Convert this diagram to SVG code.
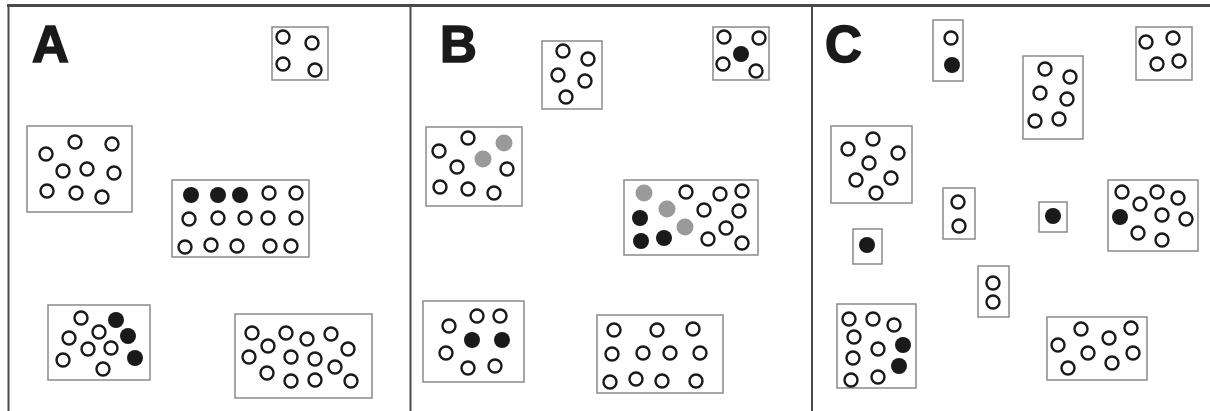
<svg xmlns="http://www.w3.org/2000/svg" width="1210" height="411" viewBox="0 0 1210 411">
<style>
.box{fill:#fff;stroke:#8a8a8a;stroke-width:1.5}
.o{fill:none;stroke:#1a1a1a;stroke-width:2.4}
.f{fill:#1a1a1a}
.g{fill:#9a9a9a}
.frame{stroke:#4a4a4a;fill:none}
.lbl{font-family:"Liberation Sans",Arial,sans-serif;font-weight:bold;font-size:51px;fill:#1a1a1a;stroke:#1a1a1a;stroke-width:1.6}
</style>
<rect width="1210" height="411" fill="#fff"/>
<g id="frame">
<line class="frame" x1="7" y1="5.5" x2="1210" y2="5.5" stroke-width="3"/>
<line class="frame" x1="8.5" y1="5" x2="8.5" y2="411" stroke-width="2"/>
<line class="frame" x1="410.5" y1="5" x2="410.5" y2="411" stroke-width="2"/>
<line class="frame" x1="812" y1="5" x2="812" y2="411" stroke-width="2"/>
</g>
<g id="connectors"/>
<g id="labels">
<text class="lbl" x="32" y="62">A</text>
<text class="lbl" x="440" y="62">B</text>
<text class="lbl" x="825" y="62">C</text>
</g>
<!-- Panel A -->
<g id="A1">
<rect class="box" x="272" y="27" width="56" height="53"/>
<circle class="o" cx="283" cy="37" r="6.5"/><circle class="o" cx="312" cy="43" r="6.5"/>
<circle class="o" cx="283" cy="64" r="6.5"/><circle class="o" cx="315" cy="70" r="6.5"/>
</g>
<g id="A2">
<rect class="box" x="27" y="126" width="105" height="86"/>
<circle class="o" cx="46" cy="154" r="6.5"/><circle class="o" cx="75" cy="142" r="6.5"/><circle class="o" cx="112" cy="144" r="6.5"/>
<circle class="o" cx="63" cy="171" r="6.5"/><circle class="o" cx="87" cy="169" r="6.5"/><circle class="o" cx="114" cy="173" r="6.5"/>
<circle class="o" cx="47" cy="191" r="6.5"/><circle class="o" cx="76" cy="193" r="6.5"/><circle class="o" cx="102" cy="197" r="6.5"/>
</g>
<g id="A3">
<rect class="box" x="172" y="180" width="137" height="77"/>
<circle class="f" cx="191" cy="195" r="8"/><circle class="f" cx="218" cy="195" r="8"/><circle class="f" cx="240" cy="195" r="8"/>
<circle class="o" cx="269" cy="193" r="6.5"/><circle class="o" cx="296" cy="193" r="6.5"/>
<circle class="o" cx="189" cy="219" r="6.5"/><circle class="o" cx="218" cy="218" r="6.5"/><circle class="o" cx="245" cy="218" r="6.5"/><circle class="o" cx="268" cy="218" r="6.5"/><circle class="o" cx="296" cy="218" r="6.5"/>
<circle class="o" cx="185" cy="247" r="6.5"/><circle class="o" cx="211" cy="245" r="6.5"/><circle class="o" cx="237" cy="246" r="6.5"/><circle class="o" cx="270" cy="246" r="6.5"/><circle class="o" cx="291" cy="246" r="6.5"/>
</g>
<g id="A4">
<rect class="box" x="48" y="305" width="102" height="75"/>
<circle class="o" cx="81" cy="318" r="6.5"/><circle class="f" cx="116" cy="320" r="8"/>
<circle class="o" cx="99" cy="332" r="6.5"/><circle class="f" cx="128" cy="336" r="8"/>
<circle class="o" cx="69" cy="338" r="6.5"/><circle class="o" cx="88" cy="349" r="6.5"/><circle class="o" cx="111" cy="348" r="6.5"/>
<circle class="f" cx="135" cy="358" r="8"/><circle class="o" cx="63" cy="360" r="6.5"/><circle class="o" cx="103" cy="369" r="6.5"/>
</g>
<g id="A5">
<rect class="box" x="235" y="314" width="137" height="84"/>
<circle class="o" cx="252" cy="333" r="6.5"/><circle class="o" cx="286" cy="333" r="6.5"/><circle class="o" cx="307" cy="339" r="6.5"/><circle class="o" cx="331" cy="334" r="6.5"/>
<circle class="o" cx="268" cy="346" r="6.5"/><circle class="o" cx="348" cy="349" r="6.5"/>
<circle class="o" cx="249" cy="357" r="6.5"/><circle class="o" cx="291" cy="357" r="6.5"/><circle class="o" cx="315" cy="359" r="6.5"/>
<circle class="o" cx="335" cy="367" r="6.5"/><circle class="o" cx="267" cy="373" r="6.5"/>
<circle class="o" cx="291" cy="381" r="6.5"/><circle class="o" cx="315" cy="380" r="6.5"/><circle class="o" cx="351" cy="381" r="6.5"/>
</g>
<!-- Panel B -->
<g id="B1">
<rect class="box" x="542" y="41" width="60" height="68"/>
<circle class="o" cx="563" cy="51" r="6.5"/><circle class="o" cx="588" cy="59" r="6.5"/>
<circle class="o" cx="558" cy="75" r="6.5"/><circle class="o" cx="585" cy="81" r="6.5"/>
<circle class="o" cx="566" cy="97" r="6.5"/>
</g>
<g id="B2">
<rect class="box" x="713" y="27" width="56" height="53"/>
<circle class="o" cx="724" cy="37" r="6.5"/><circle class="o" cx="759" cy="38" r="6.5"/>
<circle class="f" cx="741" cy="54" r="8"/>
<circle class="o" cx="723" cy="64" r="6.5"/><circle class="o" cx="756" cy="71" r="6.5"/>
</g>
<g id="B3">
<rect class="box" x="426" y="127" width="96" height="79"/>
<circle class="o" cx="439" cy="151" r="6.5"/><circle class="o" cx="468" cy="138" r="6.5"/>
<circle class="g" cx="504" cy="143" r="8.5"/><circle class="g" cx="483" cy="159" r="8.5"/>
<circle class="o" cx="457" cy="167" r="6.5"/><circle class="o" cx="507" cy="169" r="6.5"/>
<circle class="o" cx="440" cy="187" r="6.5"/><circle class="o" cx="468" cy="189" r="6.5"/><circle class="o" cx="494" cy="193" r="6.5"/>
</g>
<g id="B4">
<rect class="box" x="624" y="180" width="134" height="75"/>
<circle class="g" cx="644" cy="193" r="8.5"/><circle class="o" cx="686" cy="192" r="6.5"/><circle class="o" cx="720" cy="194" r="6.5"/><circle class="o" cx="742" cy="191" r="6.5"/>
<circle class="f" cx="640" cy="218" r="8"/><circle class="g" cx="667" cy="209" r="8.5"/><circle class="o" cx="704" cy="210" r="6.5"/><circle class="o" cx="739" cy="211" r="6.5"/>
<circle class="g" cx="685" cy="227" r="8.5"/><circle class="o" cx="726" cy="228" r="6.5"/>
<circle class="f" cx="641" cy="241" r="8"/><circle class="f" cx="664" cy="238" r="8"/><circle class="o" cx="708" cy="239" r="6.5"/><circle class="o" cx="742" cy="243" r="6.5"/>
</g>
<g id="B5">
<rect class="box" x="423" y="301" width="101" height="81"/>
<circle class="o" cx="449" cy="326" r="6.5"/><circle class="o" cx="477" cy="316" r="6.5"/><circle class="o" cx="500" cy="316" r="6.5"/>
<circle class="f" cx="472" cy="340" r="8"/><circle class="f" cx="502" cy="340" r="8"/>
<circle class="o" cx="446" cy="353" r="6.5"/><circle class="o" cx="468" cy="368" r="6.5"/><circle class="o" cx="495" cy="366" r="6.5"/>
</g>
<g id="B6">
<rect class="box" x="597" y="315" width="126" height="78"/>
<circle class="o" cx="614" cy="330" r="6.5"/><circle class="o" cx="657" cy="330" r="6.5"/><circle class="o" cx="693" cy="329" r="6.5"/>
<circle class="o" cx="612" cy="354" r="6.5"/><circle class="o" cx="643" cy="353" r="6.5"/><circle class="o" cx="670" cy="353" r="6.5"/><circle class="o" cx="700" cy="353" r="6.5"/>
<circle class="o" cx="610" cy="382" r="6.5"/><circle class="o" cx="636" cy="379" r="6.5"/><circle class="o" cx="662" cy="381" r="6.5"/><circle class="o" cx="696" cy="381" r="6.5"/>
</g>
<!-- Panel C -->
<g id="C1">
<rect class="box" x="933" y="20" width="30" height="61"/>
<circle class="o" cx="951" cy="38" r="6.5"/><circle class="f" cx="952" cy="65" r="8"/>
</g>
<g id="C2">
<rect class="box" x="831" y="126" width="81" height="77"/>
<circle class="o" cx="848" cy="149" r="6.5"/><circle class="o" cx="873" cy="139" r="6.5"/><circle class="o" cx="898" cy="153" r="6.5"/>
<circle class="o" cx="869" cy="163" r="6.5"/><circle class="o" cx="856" cy="180" r="6.5"/><circle class="o" cx="891" cy="178" r="6.5"/>
<circle class="o" cx="876" cy="193" r="6.5"/>
</g>
<g id="C3">
<rect class="box" x="943" y="188" width="32" height="51"/>
<circle class="o" cx="958" cy="202" r="6.5"/><circle class="o" cx="959" cy="226" r="6.5"/>
</g>
<g id="C4">
<rect class="box" x="853" y="229" width="29" height="35"/>
<circle class="f" cx="867" cy="245" r="8"/>
</g>
<g id="C5">
<rect class="box" x="978" y="266" width="31" height="51"/>
<circle class="o" cx="993" cy="283" r="6.5"/><circle class="o" cx="993" cy="302" r="6.5"/>
</g>
<g id="C6">
<rect class="box" x="837" y="304" width="79" height="84"/>
<circle class="o" cx="849" cy="319" r="6.5"/><circle class="o" cx="873" cy="319" r="6.5"/><circle class="o" cx="894" cy="325" r="6.5"/>
<circle class="o" cx="854" cy="337" r="6.5"/><circle class="o" cx="878" cy="349" r="6.5"/><circle class="f" cx="903" cy="345" r="8"/>
<circle class="o" cx="853" cy="358" r="6.5"/><circle class="f" cx="899" cy="366" r="8"/>
<circle class="o" cx="851" cy="380" r="6.5"/><circle class="o" cx="878" cy="377" r="6.5"/>
</g>
<g id="C7">
<rect class="box" x="1023" y="56" width="60" height="83"/>
<circle class="o" cx="1045" cy="69" r="6.5"/><circle class="o" cx="1070" cy="77" r="6.5"/>
<circle class="o" cx="1040" cy="93" r="6.5"/><circle class="o" cx="1067" cy="99" r="6.5"/>
<circle class="o" cx="1035" cy="121" r="6.5"/><circle class="o" cx="1059" cy="119" r="6.5"/>
</g>
<g id="C8">
<rect class="box" x="1136" y="27" width="56" height="53"/>
<circle class="o" cx="1146" cy="42" r="6.5"/><circle class="o" cx="1173" cy="38" r="6.5"/>
<circle class="o" cx="1157" cy="64" r="6.5"/><circle class="o" cx="1179" cy="61" r="6.5"/>
</g>
<g id="C9">
<rect class="box" x="1039" y="202" width="28" height="30"/>
<circle class="f" cx="1053" cy="216" r="8"/>
</g>
<g id="C10">
<rect class="box" x="1108" y="180" width="90" height="71"/>
<circle class="o" cx="1122" cy="192" r="6.5"/><circle class="o" cx="1157" cy="192" r="6.5"/><circle class="o" cx="1178" cy="198" r="6.5"/>
<circle class="o" cx="1140" cy="204" r="6.5"/>
<circle class="f" cx="1120" cy="217" r="8"/><circle class="o" cx="1162" cy="215" r="6.5"/><circle class="o" cx="1186" cy="219" r="6.5"/>
<circle class="o" cx="1138" cy="233" r="6.5"/><circle class="o" cx="1162" cy="240" r="6.5"/>
</g>
<g id="C11">
<rect class="box" x="1047" y="317" width="100" height="63"/>
<circle class="o" cx="1081" cy="329" r="6.5"/><circle class="o" cx="1131" cy="328" r="6.5"/>
<circle class="o" cx="1058" cy="345" r="6.5"/><circle class="o" cx="1109" cy="338" r="6.5"/>
<circle class="o" cx="1088" cy="353" r="6.5"/><circle class="o" cx="1133" cy="353" r="6.5"/>
<circle class="o" cx="1068" cy="368" r="6.5"/><circle class="o" cx="1112" cy="363" r="6.5"/>
</g>
</svg>
